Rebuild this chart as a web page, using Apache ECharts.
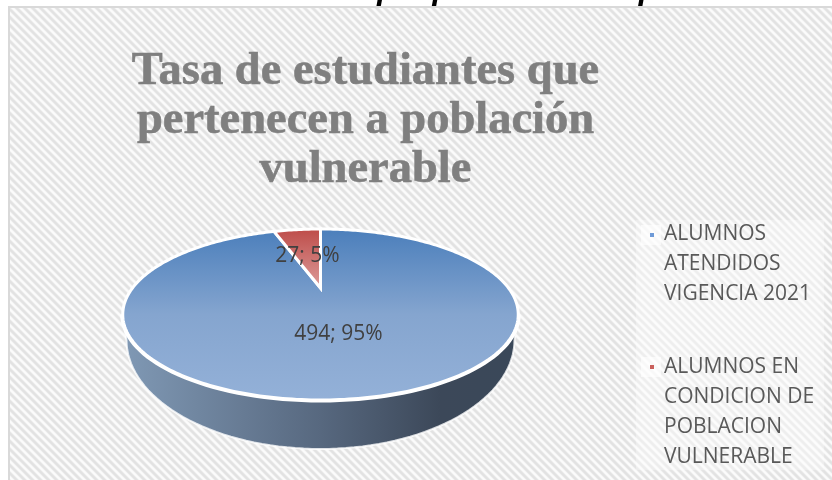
<!DOCTYPE html>
<html>
<head>
<meta charset="utf-8">
<style>
  html, body { margin: 0; padding: 0; background: #fff; overflow: hidden; }
  #chart { width: 832px; height: 480px; }
</style>
<script src="https://cdn.jsdelivr.net/npm/echarts@6/dist/echarts.min.js"></script>
</head>
<body>
<div id="chart"></div>
<script>
// datos
const categories = ['ALUMNOS ATENDIDOS VIGENCIA 2021', 'ALUMNOS EN CONDICION DE POBLACION VULNERABLE'];
const values = [494, 27];
const legendLines = [['ALUMNOS', 'ATENDIDOS', 'VIGENCIA 2021'], ['ALUMNOS EN', 'CONDICION DE', 'POBLACION', 'VULNERABLE']];
const titleText = 'Tasa de estudiantes que\npertenecen a población\nvulnerable';
const clippedHeading = 'Tasa de estudiantes que pertenecen a población vulnerable';

const total = values.reduce((a, b) => a + b, 0);

// disco en perspectiva (pastel 3D)
const cx = 320.5;
function project(deg) {
  const t = deg * Math.PI / 180, u = Math.sin(t), v = -Math.cos(t);
  const w = 1 - 0.31 * v;
  return [cx + 188 * u / w, (288 - 12 * v) / w];
}
// borde inferior de la pared
function lowerRim(phi) {
  const t = phi * Math.PI / 180;
  return [cx + 194 * Math.cos(t), 340 + 109 * Math.sin(t)];
}
const FRONT_START = 108, FRONT_END = 252;

const faceFills = [
  new echarts.graphic.LinearGradient(0, 0, 0, 1, [
    {offset: 0, color: '#4a7ebb'}, {offset: 0.5, color: '#85a5cf'}, {offset: 1, color: '#94b1d8'}
  ]),
  new echarts.graphic.LinearGradient(0, 0, 0, 1, [
    {offset: 0, color: '#bd4a47'}, {offset: 1, color: '#dd9d9b'}
  ])
];
const wallFill = new echarts.graphic.LinearGradient(0, 0, 1, 0, [
  {offset: 0, color: '#8099b5'}, {offset: 0.5, color: '#57687f'},
  {offset: 0.8, color: '#3c4859'}, {offset: 1, color: '#3a4859'}
]);
const labelAnchors = [[338.5, 334], [307.5, 256]];

function renderSlice(idx) {
  return function (params, api) {
    const value = api.value(0), before = api.value(1);
    const a0 = before / total * 360, a1 = (before + value) / total * 360;
    const children = [];

    const from = Math.max(a0, FRONT_START), to = Math.min(a1, FRONT_END);
    if (to > from) {
      const pts = [], rim = [];
      for (let d = from; d <= to; d += 2) rim.push(project(d));
      pts.push(...rim);
      for (let d = to; d >= from; d -= 2) {
        pts.push(lowerRim((d - FRONT_START) / (FRONT_END - FRONT_START) * 180));
      }
      children.push({type: 'polygon', shape: {points: pts},
        style: {fill: wallFill, stroke: 'rgba(255,255,255,0.8)', lineWidth: 2}});
      children.push({type: 'polyline', shape: {points: rim},
        style: {fill: 'none', stroke: '#fff', lineWidth: 5}});
    }

    const face = [[cx, 288]];
    for (let d = a0; d < a1; d += 1) face.push(project(d));
    face.push(project(a1));
    children.push({type: 'polygon', shape: {points: face},
      style: {fill: faceFills[idx], stroke: '#fff', lineWidth: 3, lineJoin: 'miter'}});

    const pct = Math.round(value / total * 100);
    children.push({type: 'text', z2: 10, style: {
      text: value + '; ' + pct + '%', x: labelAnchors[idx][0], y: labelAnchors[idx][1],
      fill: '#404040', font: '21px "Open Sans"', align: 'center', verticalAlign: 'middle'
    }});
    return {type: 'group', children: children};
  };
}

// fondo de trama diagonal
const hatch = document.createElement('canvas');
hatch.width = hatch.height = 8;
const hctx = hatch.getContext('2d');
const shades = ['#e2e2e2', '#e2e2e2', '#e6e6e6', '#f3f3f3', '#fbfbfb', '#fbfbfb', '#f6f6f6', '#e8e8e8'];
for (let y = 0; y < 8; y++) {
  for (let x = 0; x < 8; x++) {
    hctx.fillStyle = shades[(x - y + 16) % 8];
    hctx.fillRect(x, y, 1, 1);
  }
}

const chart = echarts.init(document.getElementById('chart'));
chart.setOption({
  animation: false,
  title: {
    text: titleText,
    left: 365.5, top: 47, padding: 0, textAlign: 'center',
    textStyle: {fontFamily: 'Liberation Serif', fontWeight: 'bold', fontSize: 46.5, lineHeight: 49, color: '#7f7f7f',
      textBorderColor: '#7f7f7f', textBorderWidth: 0.6}
  },
  legend: {
    orient: 'vertical', left: 650, top: 204, padding: 0,
    itemWidth: 4, itemHeight: 120, itemGap: 28, selectedMode: false,
    formatter: name => legendLines[categories.indexOf(name)].join('\n'),
    textStyle: {fontFamily: 'Open Sans', fontSize: 21, lineHeight: 30, color: '#595959', padding: [0, 0, 0, 5]},
    data: [
      {name: categories[0], icon: 'path://M0 29h4v4h-4z M0 0l0.01 0 M0 120l0.01 0', itemStyle: {color: '#6f9bd8', borderWidth: 0}},
      {name: categories[1], icon: 'path://M0 13h4v4h-4z M0 0l0.01 0 M0 120l0.01 0', itemStyle: {color: '#c9605c', borderWidth: 0}}
    ]
  },
  graphic: [
    {type: 'text', z: -3, style: {text: clippedHeading, x: 53, y: 6.5, verticalAlign: 'bottom',
      font: 'italic bold 32px "Liberation Sans"', fill: '#000'}},
    {type: 'rect', z: -2, shape: {x: 9, y: 7, width: 840, height: 490},
      style: {fill: {image: hatch, repeat: 'repeat'}, stroke: '#d9d9d9', lineWidth: 2}},
    {type: 'rect', z: -1, shape: {x: 636, y: 220, width: 188, height: 250},
      style: {fill: 'rgba(255,255,255,0.3)', shadowBlur: 8, shadowColor: 'rgba(255,255,255,0.6)'}},
    {type: 'rect', z: -1, shape: {x: 641, y: 225, width: 20, height: 20},
      style: {fill: 'rgba(255,255,255,0.6)'}},
    {type: 'rect', z: -1, shape: {x: 641, y: 357, width: 20, height: 20},
      style: {fill: 'rgba(255,255,255,0.6)'}}
  ],
  series: categories.map((name, i) => ({
    type: 'custom',
    name: name,
    coordinateSystem: 'none',
    silent: true,
    z: 2 + i,
    renderItem: renderSlice(i),
    data: [[values[i], values.slice(0, i).reduce((a, b) => a + b, 0)]]
  }))
});
</script>
</body>
</html>
